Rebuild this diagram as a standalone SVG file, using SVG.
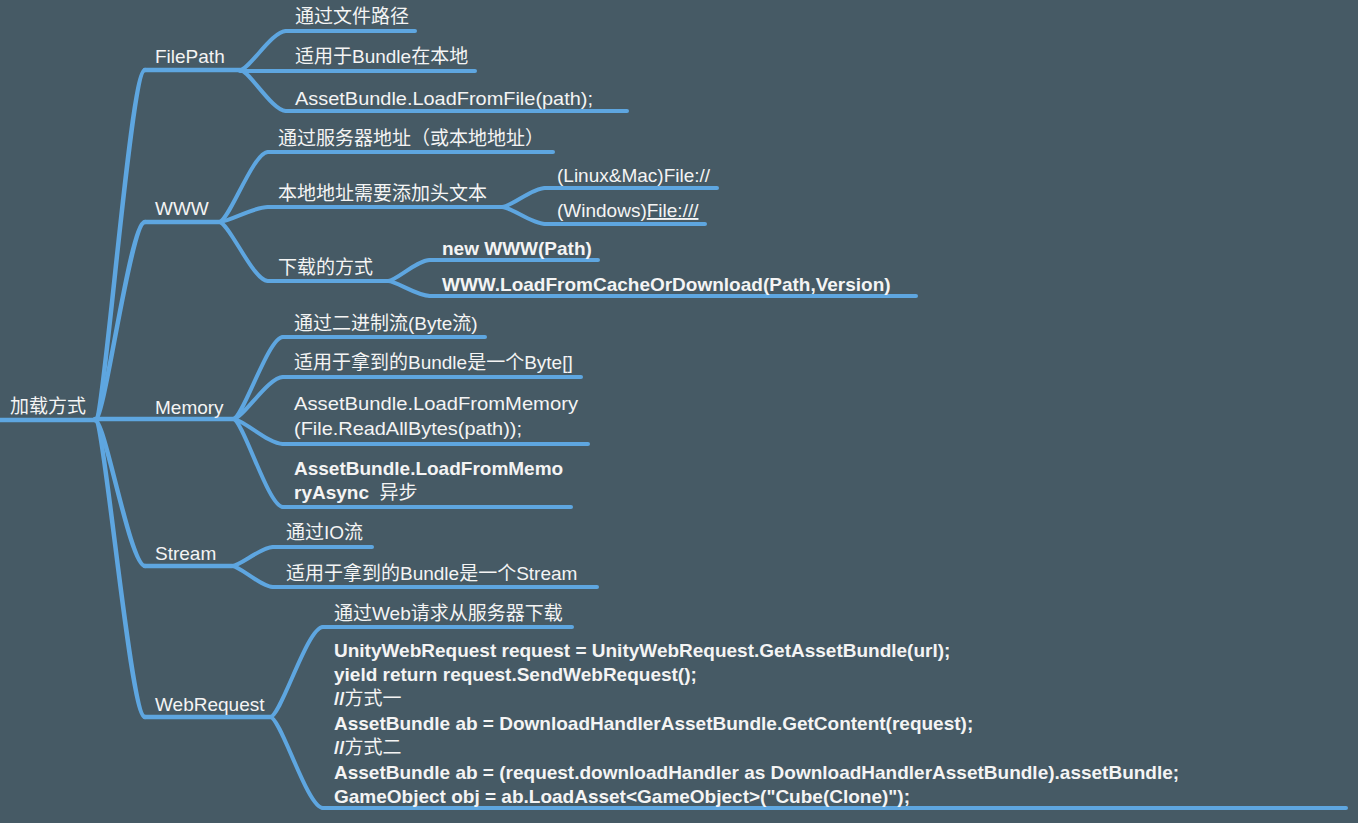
<svg xmlns="http://www.w3.org/2000/svg" width="1358" height="823" viewBox="0 0 1358 823">
<style>
  text { font-family: "Liberation Sans", "Noto Sans CJK SC", sans-serif; font-size: 19px; fill: #f4f4f4; }
  .b { font-weight: bold; }
  .n { font-weight: normal; }
  .ul { stroke: #5ea6e0; stroke-width: 4; stroke-linecap: round; fill: none; }
  .c { stroke: #5ea6e0; stroke-width: 4; stroke-linecap: round; fill: none; }
  .t { stroke: #5ea6e0; stroke-width: 4.5; stroke-linecap: round; fill: none; }
</style>
<rect width="1358" height="823" fill="#465a65"/>

<g id="connectors">
  <path class="t" d="M95,420 C105,420 130,70 145,70"/>
  <path class="t" d="M95,420 C105,420 130,222 145,222"/>
  <path class="t" d="M95,420 C105,420 130,566 145,566"/>
  <path class="t" d="M95,420 C105,420 130,717 145,717"/>

  <path class="c" d="M240,70 C249,70 272,31 286,31"/>
  <path class="c" d="M240,70 C249,70 272,111 286,111"/>

  <path class="c" d="M219,222 C229,222 253,152 268,152"/>
  <path class="c" d="M219,222 C229,222 253,207 268,207"/>
  <path class="c" d="M219,222 C229,222 253,281 268,281"/>
  <path class="c" d="M502,207 C511,207 532,188 545,188"/>
  <path class="c" d="M502,207 C511,207 532,224 545,224"/>
  <path class="c" d="M388,281 C396,281 417,260 430,260"/>
  <path class="c" d="M388,281 C396,281 417,296 430,296"/>

  <path class="c" d="M233,419 C243,419 268,337 283,337"/>
  <path class="c" d="M233,419 C243,419 268,377 283,377"/>
  <path class="c" d="M233,419 C243,419 268,444 283,444"/>
  <path class="c" d="M233,419 C243,419 268,507 283,507"/>

  <path class="c" d="M232,566 C240,566 261,547 273,547"/>
  <path class="c" d="M232,566 C240,566 261,587 273,587"/>

  <path class="c" d="M270,717 C281,717 307,627 323,627"/>
  <path class="c" d="M270,717 C281,717 307,808 323,808"/>
</g>

<g id="root">
  <line class="t" x1="0" y1="420" x2="95" y2="420"/>
  <text x="10" y="413">加载方式</text>
</g>

<g id="filepath">
  <line class="t" x1="145" y1="70" x2="240" y2="70"/>
  <text x="155" y="63">FilePath</text>
</g>
<g id="fp-1">
  <line class="ul" x1="286" y1="31" x2="415" y2="31"/>
  <text x="295" y="23">通过文件路径</text>
</g>
<g id="fp-2">
  <line class="ul" x1="240" y1="71" x2="475" y2="71"/>
  <text x="295" y="63">适用于Bundle在本地</text>
</g>
<g id="fp-3">
  <line class="ul" x1="286" y1="111" x2="627" y2="111"/>
  <text x="295" y="105" textLength="298" lengthAdjust="spacingAndGlyphs">AssetBundle.LoadFromFile(path);</text>
</g>

<g id="www">
  <line class="t" x1="145" y1="222" x2="219" y2="222"/>
  <text x="155" y="215">WWW</text>
</g>
<g id="www-1">
  <line class="ul" x1="268" y1="152" x2="553" y2="152"/>
  <text x="278" y="145">通过服务器地址（或本地地址）</text>
</g>
<g id="www-2">
  <line class="ul" x1="268" y1="207" x2="502" y2="207"/>
  <text x="278" y="200">本地地址需要添加头文本</text>
</g>
<g id="www-2-1">
  <line class="ul" x1="545" y1="188" x2="717" y2="188"/>
  <text x="557" y="182">(Linux&amp;Mac)File://</text>
</g>
<g id="www-2-2">
  <line class="ul" x1="545" y1="224" x2="705" y2="224"/>
  <text x="557" y="217">(Windows)<tspan text-decoration="underline">File:///</tspan></text>
</g>
<g id="www-3">
  <line class="ul" x1="268" y1="281" x2="388" y2="281"/>
  <text x="278" y="274">下载的方式</text>
</g>
<g id="www-3-1">
  <line class="ul" x1="430" y1="260" x2="598" y2="260"/>
  <text class="b" x="442" y="255">new WWW(Path)</text>
</g>
<g id="www-3-2">
  <line class="ul" x1="430" y1="296" x2="916" y2="296"/>
  <text class="b" x="442" y="291">WWW.LoadFromCacheOrDownload(Path,Version)</text>
</g>

<g id="memory">
  <line class="t" x1="95" y1="419" x2="233" y2="419"/>
  <text x="155" y="414">Memory</text>
</g>
<g id="mem-1">
  <line class="ul" x1="283" y1="337" x2="485" y2="337"/>
  <text x="294" y="330">通过二进制流(Byte流)</text>
</g>
<g id="mem-2">
  <line class="ul" x1="283" y1="377" x2="581" y2="377"/>
  <text x="294" y="369">适用于拿到的Bundle是一个Byte[]</text>
</g>
<g id="mem-3">
  <line class="ul" x1="283" y1="444" x2="588" y2="444"/>
  <text x="294" y="410" textLength="284" lengthAdjust="spacingAndGlyphs">AssetBundle.LoadFromMemory</text>
  <text x="294" y="435" textLength="228" lengthAdjust="spacingAndGlyphs">(File.ReadAllBytes(path));</text>
</g>
<g id="mem-4">
  <line class="ul" x1="283" y1="507" x2="571" y2="507"/>
  <text class="b" x="294" y="475">AssetBundle.LoadFromMemo</text>
  <text class="b" x="294" y="499" xml:space="preserve">ryAsync  <tspan class="n">异步</tspan></text>
</g>

<g id="stream">
  <line class="t" x1="145" y1="566" x2="232" y2="566"/>
  <text x="155" y="560">Stream</text>
</g>
<g id="st-1">
  <line class="ul" x1="273" y1="547" x2="372" y2="547"/>
  <text x="286" y="539">通过IO流</text>
</g>
<g id="st-2">
  <line class="ul" x1="273" y1="587" x2="597" y2="587"/>
  <text x="286" y="580">适用于拿到的Bundle是一个Stream</text>
</g>

<g id="webrequest">
  <line class="t" x1="145" y1="717" x2="270" y2="717"/>
  <text x="155" y="711">WebRequest</text>
</g>
<g id="wr-1">
  <line class="ul" x1="323" y1="627" x2="572" y2="627"/>
  <text x="334" y="620">通过Web请求从服务器下载</text>
</g>
<g id="wr-2">
  <line class="ul" x1="323" y1="808" x2="1346" y2="808"/>
  <text class="b" x="334" y="657">UnityWebRequest request = UnityWebRequest.GetAssetBundle(url);</text>
  <text class="b" x="334" y="681">yield return request.SendWebRequest();</text>
  <text class="b" x="334" y="705">//<tspan class="n">方式一</tspan></text>
  <text class="b" x="334" y="730">AssetBundle ab = DownloadHandlerAssetBundle.GetContent(request);</text>
  <text class="b" x="334" y="754">//<tspan class="n">方式二</tspan></text>
  <text class="b" x="334" y="779">AssetBundle ab = (request.downloadHandler as DownloadHandlerAssetBundle).assetBundle;</text>
  <text class="b" x="334" y="803">GameObject obj = ab.LoadAsset&lt;GameObject&gt;("Cube(Clone)");</text>
</g>
</svg>
